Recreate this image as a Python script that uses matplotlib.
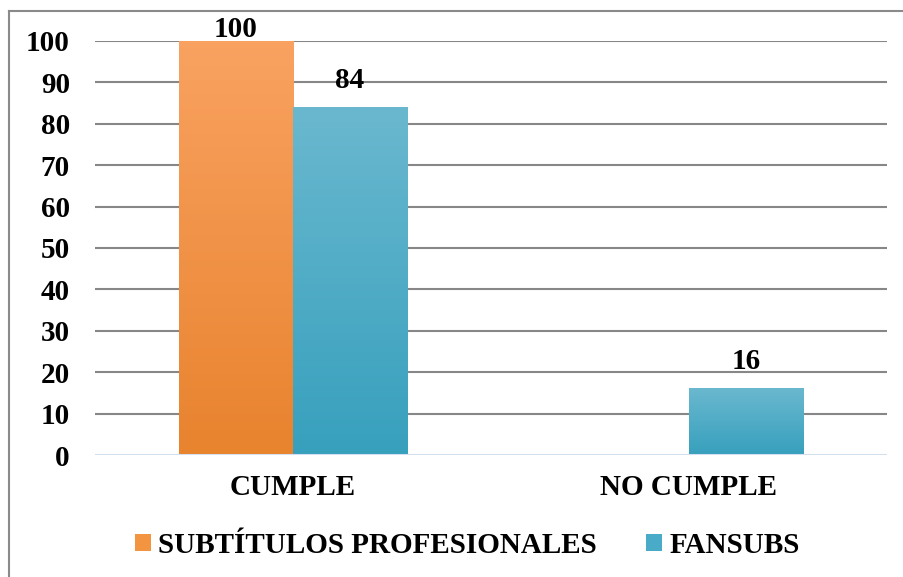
#! /usr/bin/env python3

""" Bar chart: subtítulos profesionales vs fansubs (cumple / no cumple).
"""

import numpy as np
from matplotlib import pyplot as plt
from matplotlib.colors import LinearSegmentedColormap
from matplotlib.lines import Line2D
from matplotlib.patches import Patch

plt.rcParams['font.family'] = ['Liberation Serif', 'DejaVu Serif']
plt.rcParams['font.weight'] = 'bold'

categories = ["CUMPLE", "NO CUMPLE"]
series_names = ["SUBTÍTULOS PROFESIONALES", "FANSUBS"]
profesionales = [100, 0]
fansubs = [84, 16]
y_ticks = [0, 10, 20, 30, 40, 50, 60, 70, 80, 90, 100]

# gradient colours (top, bottom) for each series
colors = [("#f9a261", "#e8832e"), ("#6ab8cf", "#37a0bd")]
solid = ["#f39440", "#4aabc8"]

fig = plt.figure(figsize=(9.04, 5.77), dpi=100)
ax = fig.add_axes([0.105, 0.2114, 0.876, 0.7176])

# outer border: only top and left edges show in the crop
bx, by = 8.5 / 904, 1 - 11 / 577
fig.add_artist(Line2D([bx, 1.0], [by, by], transform=fig.transFigure,
                      color="#8a8a8a", linewidth=1.5))
fig.add_artist(Line2D([bx, bx], [0.0, by], transform=fig.transFigure,
                      color="#8a8a8a", linewidth=1.5))

width = 0.288
x = np.arange(len(categories))
for i, values in enumerate([profesionales, fansubs]):
    offset = (i - 0.5) * width
    cmap = LinearSegmentedColormap.from_list("g%d" % i, [colors[i][1], colors[i][0]])
    bars = ax.bar(x + offset, values, width, color="none", zorder=3)
    for b, v in zip(bars, values):
        if v <= 0:
            continue
        grad = np.linspace(0, 1, 256).reshape(-1, 1)
        ax.imshow(grad, cmap=cmap, origin="lower", aspect="auto", zorder=3,
                  extent=[b.get_x(), b.get_x() + b.get_width(), 0, v])
        # data label above the bar (kept inside the top of the chart)
        dy = 27 if v < 95 else 11
        ax.annotate(str(v), (b.get_x() + b.get_width() / 2, v),
                    xytext=(0, dy * 0.72), textcoords="offset points",
                    ha="center", va="center", fontsize=21, fontweight="bold",
                    zorder=5)

ax.set_xlim(-0.5, len(categories) - 0.5)
ax.set_ylim(0, 100)
ax.set_yticks(y_ticks)
ax.set_xticks(x)
ax.set_xticklabels(categories)
ax.tick_params(axis="both", length=0, labelsize=21)
ax.tick_params(axis="y", pad=18)
ax.tick_params(axis="x", pad=14)

for t in y_ticks[1:]:
    ax.axhline(t, color="#878787", linewidth=1.5, zorder=1)
ax.axhline(0, color="#d3e0ef", linewidth=1.5, zorder=4)
for s in ax.spines.values():
    s.set_visible(False)

handles = [Patch(facecolor=solid[0]), Patch(facecolor=solid[1])]
fig.legend(handles, series_names, loc="center", bbox_to_anchor=(0.517, 0.055),
           ncol=2, frameon=False, fontsize=21, handlelength=0.55,
           handleheight=0.55, handletextpad=0.25, columnspacing=1.7)

plt.savefig("out.png", dpi=100)
